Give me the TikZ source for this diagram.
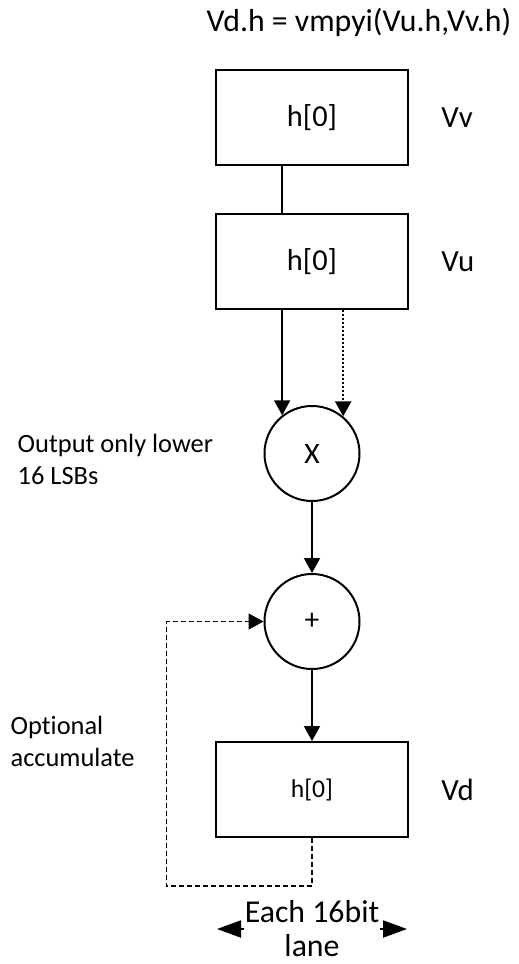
\documentclass[tikz,border=0pt]{standalone}
\usepackage{fontspec}
\setmainfont{Carlito}[Ligatures=NoCommon]
\usepackage{tikz}
\usetikzlibrary{arrows.meta,positioning,calc}

\begin{document}
\begin{tikzpicture}[
  box/.style={draw, line width=1pt, minimum width=96pt, minimum height=47.5pt, font=\fontsize{15.2}{18}\selectfont},
  smallbox/.style={box, font=\fontsize{12.8}{15}\selectfont},
  op/.style={draw, circle, line width=1pt, minimum size=47.5pt, inner sep=0pt, font=\fontsize{14.8}{17}\selectfont},
  regname/.style={inner sep=0pt, font=\fontsize{15.4}{18}\selectfont},
  note/.style={inner sep=0pt, align=left, font=\fontsize{13.2}{16}\selectfont},
  bignote/.style={inner sep=0pt, align=center, font=\fontsize{15.9}{17}\selectfont},
  arrow/.style={-{Triangle[length=7.5pt, width=8pt]}, line width=1pt},
  fback/.style={-{Triangle[length=7.5pt, width=8pt]}, line width=0.7pt, dash pattern=on 2.5pt off 1.5pt},
  lanearrow/.style={-{Triangle[length=12pt, width=8.5pt]}, line width=1pt}
]
  \useasboundingbox (0,0) rectangle (259.5pt,-482pt);

  \node[bignote] (title) at (179.5pt,-11pt) {Vd.h = vmpyi(Vu.h,Vv.h)};

  \node[box] (vv) at (156pt,-58.75pt) {h[0]};
  \node[box, below=23.5pt of vv] (vu) {h[0]};
  \node[op, below=47.5pt of vu] (xmul) {X};
  \node[op, below=35.5pt of xmul] (add) {+};
  \node[smallbox, below=35.5pt of add] (vd) {h[0]};

  \node[regname, right=16pt of vv] (vvname) {Vv};
  \node[regname, right=16pt of vu] (vuname) {Vu};
  \node[regname, right=16pt of vd] (vdname) {Vd};

  \node[note, left=25pt of xmul, yshift=-3pt] (lsbs) {Output only lower\\16 LSBs};
  \node[note, left=40pt of vd.north west] (acc) {Optional\\accumulate};

  \node[bignote] (lane) at ([yshift=-45.5pt]vd.south) {Each 16bit\\lane};
  \coordinate (laneL) at ([xshift=-47.5pt]lane.center);
  \coordinate (laneR) at ([xshift=47.5pt]lane.center);

  \draw[line width=1pt] (vv.south -| xmul.128) -- (vu.north -| xmul.128);
  \draw[arrow] (vu.south -| xmul.128) -- (xmul.128);
  \draw[arrow, line width=1.2pt, dash pattern=on 1pt off 1pt] (vu.south -| xmul.50) -- (xmul.50);
  \draw[arrow] (xmul) -- (add);
  \draw[arrow] (add) -- (vd);
  % accumulate loop back into the adder
  \draw[fback] (vd.south) -- ++(0,-24pt) -| ([xshift=-48.5pt]add.west) -- (add.west);

  \draw[lanearrow] (lane.west) -- (laneL);
  \draw[lanearrow] (lane.east) -- (laneR);
\end{tikzpicture}
\end{document}
